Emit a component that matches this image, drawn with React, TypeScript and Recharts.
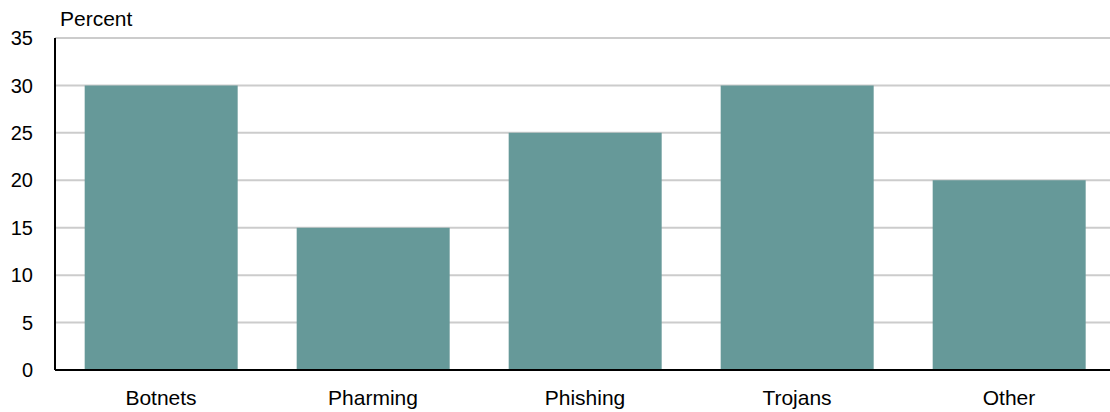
import { BarChart, Bar, CartesianGrid, XAxis, YAxis } from "recharts";

const categories = ["Botnets", "Pharming", "Phishing", "Trojans", "Other"];
const percents = [30, 15, 25, 30, 20];
const yTicks = [0, 5, 10, 15, 20, 25, 30, 35];

const rows = categories.map((name, i) => ({ name, value: percents[i] }));

const font = "'Liberation Sans', Arial, sans-serif";

export default function App() {
  return (
    <div style={{ position: "absolute", left: 0, top: 0, width: 1110, height: 412, overflow: "hidden", background: "#fff", fontFamily: font }}>
      <div style={{ position: "absolute", left: 60, top: 7, fontSize: 21, color: "#000" }}>Percent</div>
      {/* plot runs a few px past the window edge, like the original */}
      <BarChart
        width={1115}
        height={412}
        data={rows}
        margin={{ top: 38, right: 0, bottom: 12, left: 0 }}
        barCategoryGap="14%"
      >
        <CartesianGrid vertical={false} stroke="#cccccc" strokeWidth={2} />
        <XAxis
          dataKey="name"
          tickLine={false}
          axisLine={{ stroke: "#000", strokeWidth: 2 }}
          tick={{ fill: "#000", fontSize: 21, fontFamily: font }}
          tickMargin={14}
          height={30}
        />
        <YAxis
          domain={[0, 35]}
          ticks={yTicks}
          tickLine={false}
          axisLine={{ stroke: "#000", strokeWidth: 2 }}
          tick={{ fill: "#000", fontSize: 20, fontFamily: font }}
          tickMargin={16}
          width={55}
        />
        <Bar dataKey="value" fill="#669999" isAnimationActive={false} />
      </BarChart>
    </div>
  );
}
